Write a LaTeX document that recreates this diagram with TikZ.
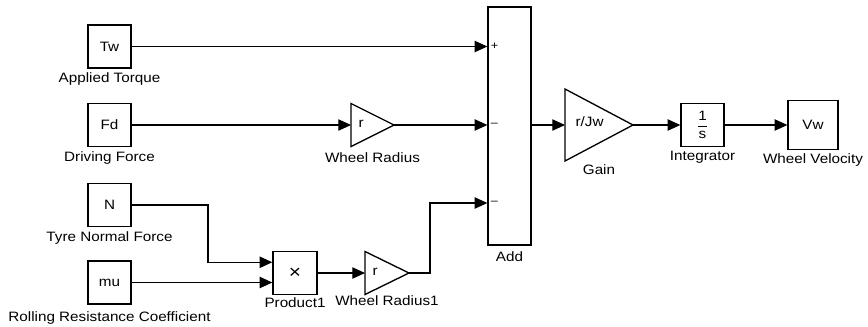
\documentclass[tikz,border=0pt]{standalone}
\usepackage{fontspec}
\setmainfont{Liberation Sans}[FakeStretch=1.12]
\usetikzlibrary{calc,positioning,shapes.geometric,arrows.meta}
\tikzset{
 sl block/.style={draw=black,line width=1pt,minimum width=32.25pt,minimum height=32.25pt,
                  inner sep=1pt},
 sl gain/.style={draw=black,line width=1pt,isosceles triangle,isosceles triangle stretches,
                 inner sep=0pt,outer sep=0pt},
 sl signal/.style={line width=.8pt,-{Triangle[length=9.5pt,width=8.5pt]}},
 sl text/.style={inner sep=1pt,font=\fontsize{10.2}{12}\selectfont},
 sl label/.style={inner sep=1pt,font=\fontsize{10.2}{12}\selectfont},
 sl sign/.style={inner sep=0pt,anchor=west,xshift=2.5pt,font=\fontsize{8.5}{9}\selectfont}
}

\begin{document}
\begin{tikzpicture}[x=.75pt,y=-.75pt]
 \useasboundingbox (0,0) rectangle (868,326);
 % source blocks
 \foreach \nm/\y/\txt/\lab in {tw/46.5/Tw/Applied Torque,fd/125/Fd/Driving Force,
                               nrm/205/N/Tyre Normal Force}{
   \node[sl block,sl text] (\nm) at (109.5,\y) {\txt};
   \node[sl label,below=2pt of \nm] (\nm lab) {\lab};
 }
 \node[sl block,sl text] (mu) at (109.5,282.5) {mu};
 \node[sl label,below=4pt of mu] (mu lab) {Rolling Resistance Coefficient};

 % product and radius gains
 \node[sl block,sl text,minimum width=33pt,font=\fontsize{14}{14}\selectfont] (prod) at (295,273) {×};
 \node[sl label,below=1pt of prod] (prod lab) {Product1};
 \coordinate (prod in1) at ($(prod.west)+(0,-10.75)$);
 \coordinate (prod in2) at (mu.east -| prod.west);

 \node[sl gain,minimum width=32.25pt,minimum height=33pt,anchor=lower side] (rad1) at (365,273) {};
 \node[sl text,anchor=west] (rad1 txt) at ($(rad1.lower side)+(6,-1)$) {r};
 \node[sl label,anchor=north] (rad1 lab) at ($(rad1.lower side)!.5!(rad1.apex)+(0,21)$) {Wheel Radius1};

 \node[sl gain,minimum width=32.25pt,minimum height=32.25pt,anchor=lower side] (rad) at (351,125) {};
 \node[sl text,anchor=west] (rad txt) at ($(rad.lower side)+(6,-1)$) {r};
 \node[sl label,anchor=north] (rad lab) at ($(rad.lower side)!.5!(rad.apex)+(0,26)$) {Wheel Radius};

 % sum block
 \node[sl block,minimum height=178.5pt] (add) at (509.5,126) {};
 \node[sl label,below=3pt of add] (add lab) {Add};
 \coordinate (add in1) at (tw.east -| add.west);
 \coordinate (add in2) at (fd.east -| add.west);
 \coordinate (add in3) at ($(add.west)+(0,77)$);
 \node[sl sign] (add s1) at (add in1) {+};
 \node[sl sign] (add s2) at (add in2) {–};
 \node[sl sign] (add s3) at (add in3) {–};

 % output chain
 \node[sl gain,minimum width=54pt,minimum height=51pt,anchor=lower side] (gain) at (565,125) {};
 \node[sl text,anchor=west] (gain txt) at ($(gain.lower side)+(9,-3)$) {r/Jw};
 \node[sl label,anchor=north] (gain lab) at ($(gain.lower side)!.5!(gain.apex)+(0,38)$) {Gain};
 \node[sl block,sl text] (integ) at (702.5,125) {$\displaystyle\frac{\mbox{1}}{\mbox{s}}$};
 \node[sl label,below=1.5pt of integ] (integ lab) {Integrator};
 \node[sl block,sl text,minimum width=37.5pt,minimum height=37pt] (vw) at (813,125) {Vw};
 \node[sl label,below=1.5pt of vw] (vw lab) {Wheel Velocity};

 % signals
 \path (208,0) coordinate (n col) (430,0) coordinate (r1 col);
 \draw[sl signal] (tw.east) -- (add in1);
 \draw[sl signal] (fd.east) -- (rad.lower side);
 \draw[sl signal] (rad.apex) -- (add in2);
 \draw[sl signal] (nrm.east) -| (n col |- prod in1) -- (prod in1);
 \draw[sl signal] (mu.east) -- (prod in2);
 \draw[sl signal] (prod.east) -- (rad1.lower side);
 \draw[sl signal] (rad1.apex) -| (r1 col |- add in3) -- (add in3);
 \draw[sl signal] (gain.lower side -| add.east) -- (gain.lower side);
 \draw[sl signal] (gain.apex) -- (integ.west);
 \draw[sl signal] (integ.east) -- (vw.west);
\end{tikzpicture}
\end{document}
